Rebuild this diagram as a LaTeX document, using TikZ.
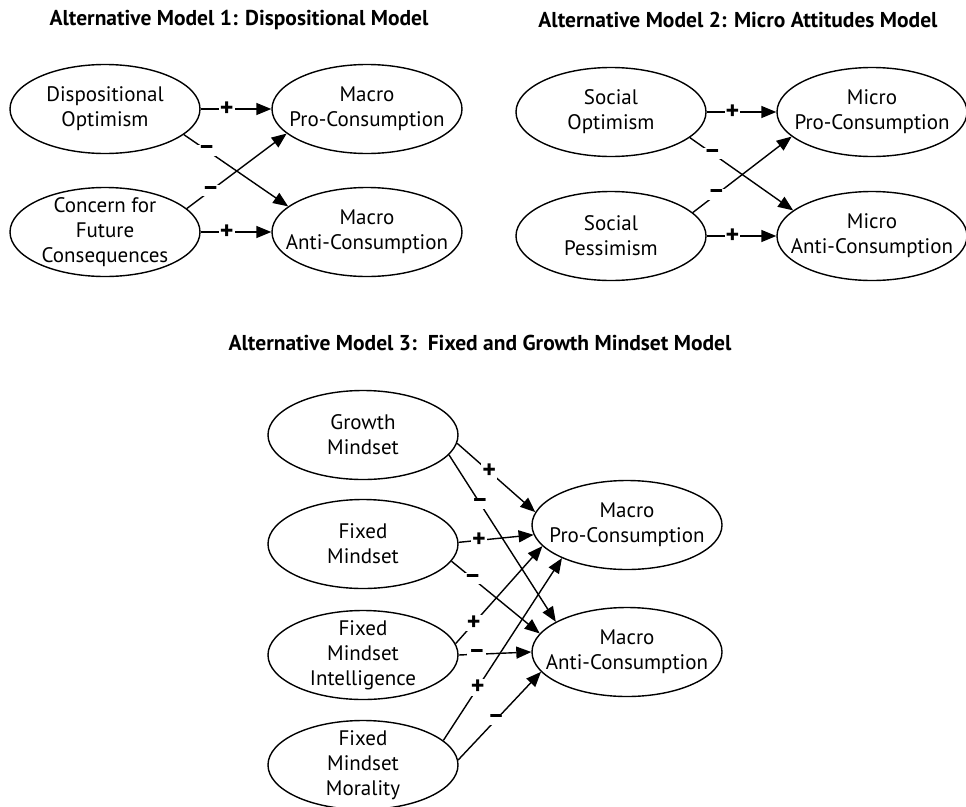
\documentclass[tikz,border=0pt]{standalone}
\usepackage{fontspec}
\setmainfont{PT Sans}
\usetikzlibrary{shapes.geometric,arrows.meta}
\begin{document}
\begin{tikzpicture}[x=1pt,y=-1pt,
  latent/.style={ellipse,draw,line width=1.4pt,minimum width=190pt,minimum height=89pt,inner xsep=-30pt,inner ysep=-25pt,align=center,font=\fontsize{21}{25}\selectfont},
  link/.style={line width=1.4pt,-{Triangle[length=15pt,width=12pt]}},
  sgn/.style={fill=white,inner sep=1pt,font=\bfseries\fontsize{26}{26}\selectfont},
  ttl/.style={font=\bfseries\fontsize{21.5}{24}\selectfont}]
\useasboundingbox (0,0) rectangle (966,806);

% ---------- Model 1 ----------
\node[ttl] (t1) at (239,20) {Alternative Model 1: Dispositional Model};
\node[latent] (d) at (105,109) {Dispositional\\Optimism};
\node[latent] (c) at (105,232) {Concern for\\Future\\Consequences};
\node[latent] (mp) at (367,109) {Macro\\Pro-Consumption};
\node[latent] (ma) at (367,232) {Macro\\Anti-Consumption};
\draw[link] (d.east) -- node[sgn,pos=0.37] (s1) {+} (mp.west);
\draw[link] (d.-18) -- node[sgn,pos=0.22] (s2) {–} (ma.162);
\draw[link] (c.16) -- node[sgn,pos=0.24] (s3) {–} (mp.-163);
\draw[link] (c.east) -- node[sgn,pos=0.37] (s4) {+} (ma.west);

% ---------- Model 2 ----------
\node[ttl] (t2) at (738,20) {Alternative Model 2: Micro Attitudes Model};
\node[latent] (so) at (611,112) {Social\\Optimism};
\node[latent] (sp) at (611,236) {Social\\Pessimism};
\node[latent] (mip) at (872,112) {Micro\\Pro-Consumption};
\node[latent] (mia) at (872,236) {Micro\\Anti-Consumption};
\draw[link] (so.east) -- node[sgn,pos=0.37] (s5) {+} (mip.west);
\draw[link] (so.-18) -- node[sgn,pos=0.22] (s6) {–} (mia.162);
\draw[link] (sp.16) -- node[sgn,pos=0.24] (s7) {–} (mip.-163);
\draw[link] (sp.east) -- node[sgn,pos=0.37] (s8) {+} (mia.west);

% ---------- Model 3 ----------
\node[ttl] (t3) at (480,343) {Alternative Model 3:\ \ Fixed and Growth Mindset Model};
\node[latent] (g) at (363,435) {Growth\\Mindset};
\node[latent] (f) at (363,544) {Fixed\\Mindset};
\node[latent] (fi) at (363,655) {Fixed\\Mindset\\Intelligence};
\node[latent] (fm) at (363,765) {Fixed\\Mindset\\Morality};
\node[latent] (p3) at (627,525) {Macro\\Pro-Consumption};
\node[latent] (a3) at (627,652) {Macro\\Anti-Consumption};
\draw[link] (g.-5) -- node[sgn,pos=0.41] (s9) {+} (p3.172);
\draw[link] (g.-13) -- node[sgn,pos=0.29] (s10) {–} (a3.157);
\draw[link] (f.1) -- node[sgn,pos=0.27] (s11) {+} (p3.-174);
\draw[link] (f.-11) -- node[sgn,pos=0.24] (s12) {–} (a3.168);
\draw[link] (fi.7) -- node[sgn,pos=0.21] (s13) {+} (p3.-166);
\draw[link] (fi.east) -- node[sgn,pos=0.25] (s14) {–} (a3.west);
\draw[link] (fm.17) -- node[sgn,pos=0.29] (s15) {+} (p3.-153);
\draw[link] (fm.3) -- node[sgn,pos=0.46] (s16) {–} (a3.-167);
\end{tikzpicture}
\end{document}
